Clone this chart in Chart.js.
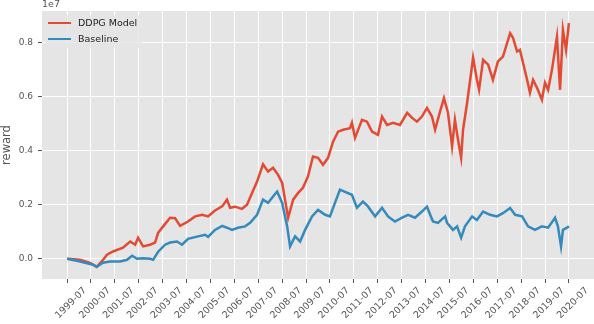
<!DOCTYPE html>
<html>
<head>
<meta charset="utf-8">
<script src="https://cdn.jsdelivr.net/npm/chart.js@4.4.0/dist/chart.umd.min.js"></script>
<style>
  html, body { margin: 0; padding: 0; background: #fff; }
  #wrap { width: 594px; height: 324px; }
</style>
</head>
<body>
<div id="wrap"><canvas id="chart" width="594" height="324"></canvas></div>
<script>
// reward values are in units of 1e7 (matches the axis offset label)
const ddpgYears = [1999.5, 2000.04, 2000.46, 2000.74, 2000.95, 2001.17, 2001.42, 2001.84, 2002.14, 2002.35,
  2002.47, 2002.68, 2002.97, 2003.18, 2003.31, 2003.52, 2003.81, 2004.02, 2004.23, 2004.56,
  2004.86, 2005.15, 2005.40, 2005.69, 2005.99, 2006.19, 2006.32, 2006.53, 2006.82, 2007.03,
  2007.24, 2007.45, 2007.70, 2007.91, 2008.12, 2008.33, 2008.50, 2008.62, 2008.75, 2008.96,
  2009.17, 2009.37, 2009.58, 2009.79, 2010.00, 2010.21, 2010.42, 2010.63, 2010.84, 2011.05,
  2011.34, 2011.42, 2011.55, 2011.84, 2012.05, 2012.26, 2012.51, 2012.68, 2012.89, 2013.14,
  2013.43, 2013.73, 2013.94, 2014.14, 2014.35, 2014.56, 2014.77, 2014.90, 2015.11, 2015.27,
  2015.44, 2015.61, 2015.73, 2015.86, 2015.99, 2016.07, 2016.24, 2016.36, 2016.49, 2016.65,
  2016.74, 2016.91, 2017.12, 2017.32, 2017.53, 2017.74, 2018.04, 2018.16, 2018.33, 2018.45,
  2018.58, 2018.75, 2018.87, 2019.00, 2019.17, 2019.37, 2019.50, 2019.63, 2019.79, 2020.00,
  2020.13, 2020.25, 2020.38, 2020.50];
const ddpgReward = [0.0, -0.004, -0.015, -0.030, -0.010, 0.015, 0.027, 0.041, 0.064, 0.052,
  0.078, 0.046, 0.052, 0.060, 0.096, 0.120, 0.152, 0.150, 0.122, 0.138,
  0.157, 0.163, 0.157, 0.179, 0.194, 0.219, 0.189, 0.193, 0.185, 0.200,
  0.244, 0.286, 0.350, 0.323, 0.337, 0.311, 0.281, 0.219, 0.152, 0.219,
  0.244, 0.263, 0.305, 0.379, 0.374, 0.348, 0.374, 0.434, 0.471, 0.478,
  0.484, 0.504, 0.448, 0.515, 0.508, 0.471, 0.459, 0.527, 0.496, 0.504,
  0.496, 0.541, 0.522, 0.508, 0.527, 0.559, 0.527, 0.478, 0.546, 0.595,
  0.541, 0.416, 0.515, 0.441, 0.374, 0.478, 0.578, 0.657, 0.745, 0.663,
  0.626, 0.737, 0.719, 0.663, 0.731, 0.749, 0.836, 0.819, 0.768, 0.774,
  0.726, 0.663, 0.615, 0.663, 0.633, 0.589, 0.652, 0.626, 0.700, 0.823,
  0.626, 0.848, 0.774, 0.873];

const baseYears = [1999.5, 2000.04, 2000.59, 2000.74, 2001.00, 2001.30, 2001.72, 2002.01, 2002.22, 2002.43,
  2002.68, 2002.97, 2003.10, 2003.31, 2003.60, 2003.81, 2004.10, 2004.31, 2004.56, 2004.98,
  2005.27, 2005.40, 2005.69, 2005.99, 2006.19, 2006.40, 2006.65, 2006.95, 2007.16, 2007.45,
  2007.70, 2007.91, 2008.12, 2008.29, 2008.50, 2008.71, 2008.83, 2009.04, 2009.25, 2009.46,
  2009.75, 2010.00, 2010.30, 2010.50, 2010.71, 2010.92, 2011.13, 2011.42, 2011.63, 2011.88,
  2012.09, 2012.39, 2012.68, 2012.93, 2013.22, 2013.52, 2013.77, 2014.06, 2014.35, 2014.56,
  2014.81, 2015.02, 2015.32, 2015.40, 2015.65, 2015.82, 2015.99, 2016.15, 2016.45, 2016.65,
  2016.91, 2017.20, 2017.49, 2017.74, 2018.04, 2018.25, 2018.54, 2018.79, 2019.08, 2019.37,
  2019.63, 2019.92, 2020.04, 2020.17, 2020.25, 2020.42, 2020.50];
const baseReward = [0.0, -0.010, -0.022, -0.030, -0.015, -0.010, -0.010, -0.004, 0.011, 0.000,
  0.002, 0.000, -0.004, 0.026, 0.052, 0.060, 0.064, 0.052, 0.074, 0.083,
  0.089, 0.081, 0.107, 0.122, 0.115, 0.107, 0.115, 0.120, 0.133, 0.163,
  0.219, 0.207, 0.231, 0.249, 0.207, 0.120, 0.046, 0.083, 0.064, 0.107,
  0.157, 0.181, 0.163, 0.157, 0.207, 0.256, 0.248, 0.237, 0.189, 0.212,
  0.194, 0.157, 0.189, 0.157, 0.138, 0.152, 0.163, 0.152, 0.175, 0.193,
  0.138, 0.133, 0.157, 0.133, 0.107, 0.120, 0.078, 0.120, 0.157, 0.144,
  0.175, 0.163, 0.157, 0.169, 0.188, 0.163, 0.157, 0.120, 0.107, 0.120,
  0.115, 0.152, 0.120, 0.046, 0.107, 0.115, 0.120];

const xTickYears = [1999, 2000, 2001, 2002, 2003, 2004, 2005, 2006, 2007, 2008, 2009,
  2010, 2011, 2012, 2013, 2014, 2015, 2016, 2017, 2018, 2019, 2020];
const yTicks = [0.0, 0.2, 0.4, 0.6, 0.8];

const FONT = "'DejaVu Sans', sans-serif";
const RED = '#E24A33';
const BLUE = '#348ABD';

function toPoints(xs, ys) {
  return xs.map((x, i) => ({ x: x, y: ys[i] }));
}

// gray panel behind the grid
const panelBg = {
  id: 'panelBg',
  beforeDraw(chart) {
    const a = chart.chartArea, ctx = chart.ctx;
    ctx.save();
    ctx.fillStyle = '#E5E5E5';
    ctx.fillRect(a.left, a.top, a.right - a.left, a.bottom - a.top);
    ctx.restore();
  }
};

// matplotlib-like legend box and the 1e7 offset text
const extras = {
  id: 'extras',
  afterDraw(chart) {
    const ctx = chart.ctx, a = chart.chartArea;
    ctx.save();
    ctx.fillStyle = '#555';
    ctx.font = '9.5px ' + FONT;
    ctx.textBaseline = 'alphabetic';
    ctx.fillText('1e7', a.left, 7);

    ctx.fillStyle = 'rgba(229,229,229,0.8)';
    ctx.fillRect(a.left + 4, a.top + 4, 96, 33);
    const rows = chart.data.datasets;
    rows.forEach((ds, i) => {
      const y = a.top + 12 + i * 16;
      ctx.strokeStyle = ds.borderColor;
      ctx.lineWidth = 2;
      ctx.beginPath();
      ctx.moveTo(a.left + 6, y);
      ctx.lineTo(a.left + 29, y);
      ctx.stroke();
      ctx.fillStyle = '#222';
      ctx.font = '9.5px ' + FONT;
      ctx.textBaseline = 'middle';
      ctx.fillText(ds.label, a.left + 36, y + 0.5);
    });
    ctx.restore();
  }
};

new Chart(document.getElementById('chart'), {
  type: 'line',
  data: {
    datasets: [
      { label: 'DDPG Model', data: toPoints(ddpgYears, ddpgReward), borderColor: RED,
        borderWidth: 2.5, pointRadius: 0, tension: 0, order: 2 },
      { label: 'Baseline', data: toPoints(baseYears, baseReward), borderColor: BLUE,
        borderWidth: 2.5, pointRadius: 0, tension: 0, order: 1 }
    ]
  },
  options: {
    responsive: false,
    animation: false,
    layout: { padding: { top: 11, left: 0, right: 0, bottom: 0 } },
    plugins: { legend: { display: false }, tooltip: { enabled: false } },
    scales: {
      x: {
        type: 'linear',
        min: 1998.45,
        max: 2021.55,
        afterBuildTicks(scale) {
          scale.ticks = xTickYears.map(y => ({ value: y + 0.5 }));
        },
        afterFit(scale) {
          scale.height = 45;
          scale.paddingLeft = 0;
          scale.paddingRight = 0;
        },
        grid: { color: '#ffffff', lineWidth: 1, tickColor: '#555', tickLength: 4 },
        border: { display: false },
        ticks: {
          minRotation: 45, maxRotation: 45, autoSkip: false,
          labelOffset: 18, padding: 2,
          color: '#555', font: { family: FONT, size: 9.5 },
          callback: v => Math.floor(v) + '-07'
        }
      },
      y: {
        type: 'linear',
        min: -0.075,
        max: 0.918,
        afterBuildTicks(scale) {
          scale.ticks = yTicks.map(v => ({ value: v }));
        },
        afterFit(scale) {
          scale.width = 42;
        },
        grid: { color: '#ffffff', lineWidth: 1, tickColor: '#555', tickLength: 4 },
        border: { display: false },
        ticks: {
          padding: 5, color: '#555', font: { family: FONT, size: 9 },
          callback: v => v.toFixed(1)
        },
        title: {
          display: true, text: 'reward', color: '#555',
          font: { family: FONT, size: 11.5 }, padding: { top: 0, bottom: 0 }
        }
      }
    }
  },
  plugins: [panelBg, extras]
});
</script>
</body>
</html>
